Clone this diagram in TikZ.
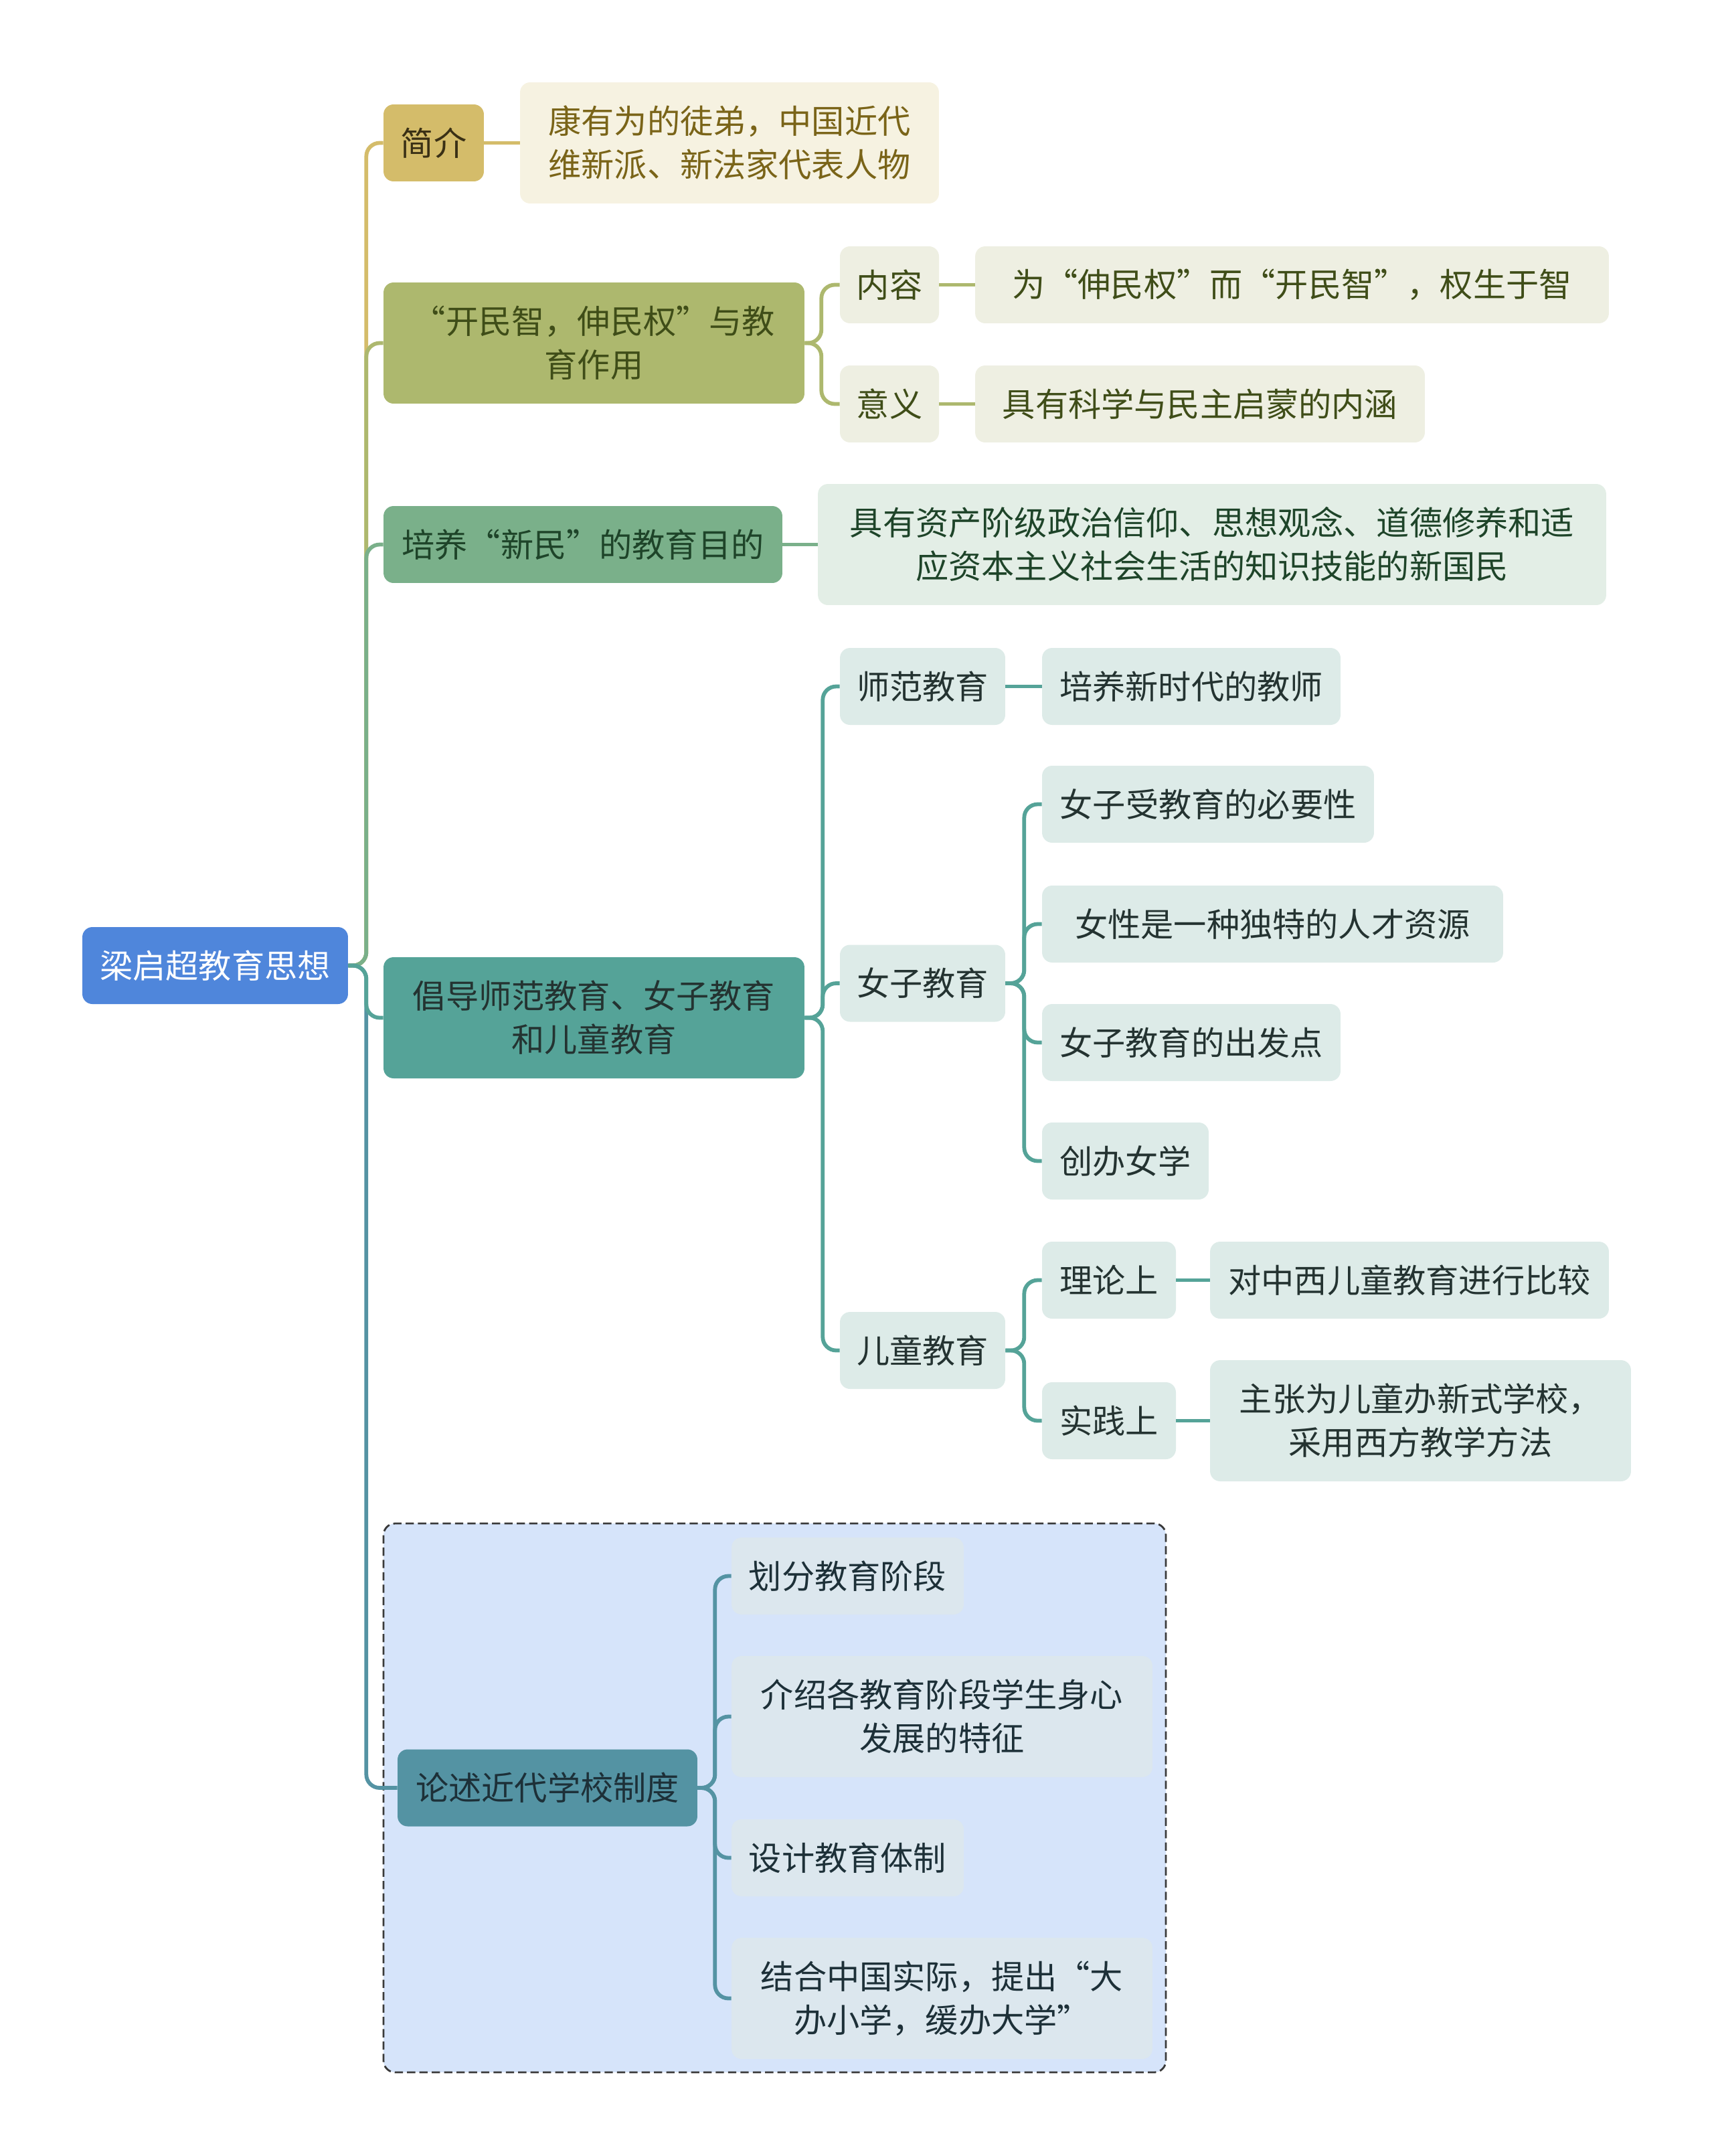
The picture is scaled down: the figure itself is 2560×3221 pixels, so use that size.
\documentclass[tikz,border=0pt]{standalone}
\usepackage{fontspec}
\setmainfont{Noto Sans CJK SC}
\usepackage{tikz}
\usetikzlibrary{positioning, calc}
\definecolor{rootblue}{HTML}{4F86DB}
\definecolor{introgold}{HTML}{D4BC6A}
\definecolor{introlight}{HTML}{F6F2E1}
\definecolor{introtext}{HTML}{3A3015}
\definecolor{introleaf}{HTML}{7A6418}
\definecolor{olivemain}{HTML}{ADB86E}
\definecolor{olivelight}{HTML}{EEEFE2}
\definecolor{olivetext}{HTML}{3F4D18}
\definecolor{greenmain}{HTML}{7AB08A}
\definecolor{greenlight}{HTML}{E3EEE6}
\definecolor{greentext}{HTML}{1E4429}
\definecolor{tealmain}{HTML}{55A398}
\definecolor{teallight}{HTML}{DDEBE8}
\definecolor{tealtext}{HTML}{243331}
\definecolor{steelmain}{HTML}{5493A3}
\definecolor{steellight}{HTML}{DCE7EE}
\definecolor{steeltext}{HTML}{1D3038}
\definecolor{framefill}{HTML}{D6E4FA}
\definecolor{frameline}{HTML}{3A3A3A}

\begin{document}
\begin{tikzpicture}[x=0.02cm, y=-0.02cm,
    box/.style={rounded corners=0.3cm, align=center, inner sep=0pt,
        font=\fontsize{28}{37}\selectfont, minimum height=2.3cm},
    tallbox/.style={box, minimum height=3.62cm},
    link/.style={line width=3.3pt, rounded corners=0.4cm},
    frame/.style={draw=frameline, fill=framefill, line width=1.6pt,
        dash pattern=on 7pt off 3.5pt, rounded corners=0.35cm}]
    \useasboundingbox (0,0) rectangle (2560,3221);

    % dashed frame round the school system branch
    \draw[frame] (573,2276) rectangle (1742,3096);

    % root
    \node[box, fill=rootblue, text=white, minimum width=7.94cm] (root) at (321.5,1442.5) {梁启超教育思想};

    % intro
    \node[box, fill=introgold, text=introtext, minimum width=3cm] (intro) at (648,213.5) {简介};
    \node[tallbox, fill=introlight, text=introleaf, minimum width=12.52cm] (introA) at (1090,213.5) {康有为的徒弟，中国近代\\维新派、新法家代表人物};

    % people's wisdom and rights
    \node[tallbox, fill=olivemain, text=olivetext, minimum width=12.58cm] (wisdom) at (887.5,512.5) {“开民智，伸民权”与教\\育作用};
    \node[box, fill=olivelight, text=olivetext, minimum width=2.96cm] (content) at (1329,425.5) {内容};
    \node[box, fill=olivelight, text=olivetext, minimum width=18.94cm] (contentA) at (1930.5,425.5) {为“伸民权”而“开民智”，权生于智};
    \node[box, fill=olivelight, text=olivetext, minimum width=2.96cm] (meaning) at (1329,603.5) {意义};
    \node[box, fill=olivelight, text=olivetext, minimum width=13.44cm] (meaningA) at (1793,603.5) {具有科学与民主启蒙的内涵};

    % new citizens
    \node[box, fill=greenmain, text=greentext, minimum width=11.92cm] (citizen) at (871,813.5) {培养“新民”的教育目的};
    \node[tallbox, fill=greenlight, text=greentext, minimum width=23.56cm] (citizenA) at (1811,813.5) {具有资产阶级政治信仰、思想观念、道德修养和适\\应资本主义社会生活的知识技能的新国民};

    % teachers, women and children
    \node[tallbox, fill=tealmain, text=tealtext, minimum width=12.58cm] (edu) at (887.5,1520.5) {倡导师范教育、女子教育\\和儿童教育};
    \node[box, fill=teallight, text=tealtext, minimum width=4.94cm] (normal) at (1378.5,1025.5) {师范教育};
    \node[box, fill=teallight, text=tealtext, minimum width=8.92cm] (normalA) at (1780,1025.5) {培养新时代的教师};
    \node[box, fill=teallight, text=tealtext, minimum width=4.94cm] (women) at (1378.5,1469) {女子教育};
    \node[box, fill=teallight, text=tealtext, minimum width=9.92cm] (womenA) at (1805,1201.5) {女子受教育的必要性};
    \node[box, fill=teallight, text=tealtext, minimum width=13.78cm] (womenB) at (1901.5,1380.5) {女性是一种独特的人才资源};
    \node[box, fill=teallight, text=tealtext, minimum width=8.92cm] (womenC) at (1780,1557.5) {女子教育的出发点};
    \node[box, fill=teallight, text=tealtext, minimum width=4.98cm] (womenD) at (1681.5,1734.5) {创办女学};
    \node[box, fill=teallight, text=tealtext, minimum width=4.94cm] (child) at (1378.5,2017.5) {儿童教育};
    \node[box, fill=teallight, text=tealtext, minimum width=4cm] (theory) at (1657,1912.5) {理论上};
    \node[box, fill=teallight, text=tealtext, minimum width=11.92cm] (theoryA) at (2106,1912.5) {对中西儿童教育进行比较};
    \node[box, fill=teallight, text=tealtext, minimum width=4cm] (practice) at (1657,2122.5) {实践上};
    \node[tallbox, fill=teallight, text=tealtext, minimum width=12.58cm] (practiceA) at (2122.5,2122.5) {主张为儿童办新式学校，\\采用西方教学方法};

    % school system
    \node[box, fill=steelmain, text=steeltext, minimum width=8.96cm] (school) at (818,2671) {论述近代学校制度};
    \node[box, fill=steellight, text=steeltext, minimum width=6.94cm] (schoolA) at (1266.5,2354.5) {划分教育阶段};
    \node[tallbox, fill=steellight, text=steeltext, minimum width=12.58cm] (schoolB) at (1407.5,2564.5) {介绍各教育阶段学生身心\\发展的特征};
    \node[box, fill=steellight, text=steeltext, minimum width=6.94cm] (schoolC) at (1266.5,2775.5) {设计教育体制};
    \node[tallbox, fill=steellight, text=steeltext, minimum width=12.58cm] (schoolD) at (1407.5,2985.5) {结合中国实际，提出“大\\办小学，缓办大学”};

    % trunk, far branches first so near ones lie on top
    \draw[link, introgold] (root.east) -- ++(27,0) |- (intro.west);
    \draw[link, olivemain] (root.east) -- ++(27,0) |- (wisdom.west);
    \draw[link, greenmain] (root.east) -- ++(27,0) |- (citizen.west);
    \draw[link, steelmain] (root.east) -- ++(27,0) |- (school.west);
    \draw[link, tealmain] (root.east) -- ++(27,0) |- (edu.west);

    % intro
    \draw[link, introgold] (intro.east) -- (introA.west);

    % wisdom
    \draw[link, olivemain] (wisdom.east) -- ++(25,0) |- (content.west);
    \draw[link, olivemain] (wisdom.east) -- ++(25,0) |- (meaning.west);
    \draw[link, olivemain] (content.east) -- (contentA.west);
    \draw[link, olivemain] (meaning.east) -- (meaningA.west);

    % citizen
    \draw[link, greenmain] (citizen.east) -- (citizenA.west);

    % edu
    \draw[link, tealmain] (edu.east) -- ++(27,0) |- (normal.west);
    \draw[link, tealmain] (edu.east) -- ++(27,0) |- (women.west);
    \draw[link, tealmain] (edu.east) -- ++(27,0) |- (child.west);
    \draw[link, tealmain] (normal.east) -- (normalA.west);
    \foreach \n in {womenA, womenB, womenC, womenD}
        \draw[link, tealmain] (women.east) -- ++(28,0) |- (\n.west);
    \draw[link, tealmain] (child.east) -- ++(28,0) |- (theory.west);
    \draw[link, tealmain] (child.east) -- ++(28,0) |- (practice.west);
    \draw[link, tealmain] (theory.east) -- (theoryA.west);
    \draw[link, tealmain] (practice.east) -- (practiceA.west);

    % school
    \foreach \n in {schoolA, schoolB, schoolC, schoolD}
        \draw[link, steelmain] (school.east) -- ++(26,0) |- (\n.west);
\end{tikzpicture}
\end{document}
